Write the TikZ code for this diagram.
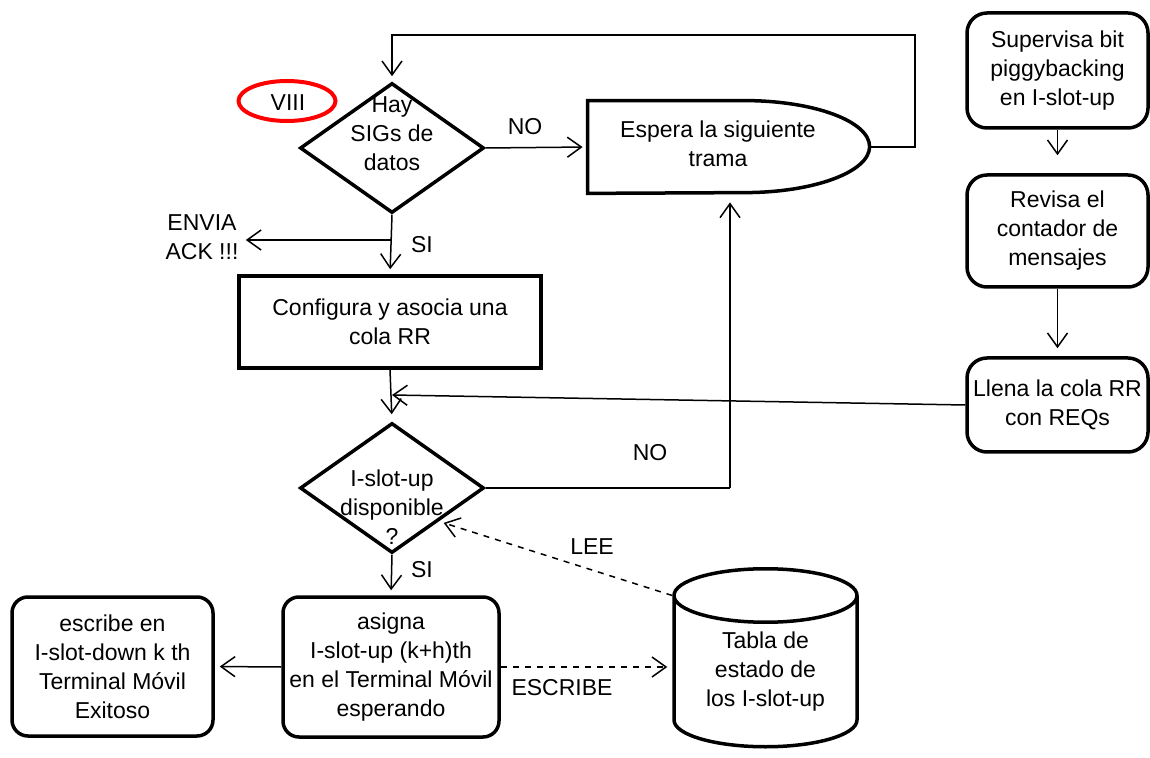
\documentclass[tikz,border=0pt]{standalone}
\usepackage{fontspec}
\setmainfont{Liberation Sans}
\usetikzlibrary{arrows.meta,shapes.geometric}

\begin{document}
\begin{tikzpicture}[x=0.5pt,y=-0.5pt,font=\fontsize{11.5}{14.5}\selectfont]

\tikzstyle{process} = [rectangle, draw, line width=1.75pt, align=center, inner sep=0pt]
\tikzstyle{roundbox} = [rectangle, rounded corners=8pt, draw, line width=1.75pt, align=center, inner sep=0pt]
\tikzstyle{decision} = [diamond, draw, line width=1.75pt, inner sep=0pt, minimum width=92pt, minimum height=65pt]
\tikzstyle{delaybox} = [rectangle, minimum width=141pt, minimum height=46pt, inner sep=0pt]
\tikzstyle{database} = [cylinder, shape border rotate=90, aspect=0.45, draw, line width=1.75pt, align=center, inner sep=0pt, minimum width=91.5pt, minimum height=89pt]
\tikzstyle{tag} = [ellipse, draw=red, line width=2pt, minimum width=48.5pt, minimum height=20pt, inner sep=0pt]
\tikzstyle{txt} = [align=center, inner sep=1pt]
\tikzstyle{link} = [line width=0.75pt, -{Straight Barb[length=7pt,width=10pt]}, shorten >=2.5pt]
\tikzstyle{plain} = [line width=0.75pt]

\useasboundingbox (0,0) rectangle (1150,758);

\node[tag] (viii) at (287,101) {};
\node[txt] (viiitxt) at (288,103) {VIII};

\node[decision] (sigs) at (392,148) {};
\node[txt] (sigstxt) at (392,134) {Hay\\SIGs de\\datos};

\node[delaybox] (espera) at (729,147) {};
\draw[line width=1.75pt] (espera.north west) -- ++(157,0)
  arc[start angle=90, end angle=-90, x radius=62.5pt, y radius=23pt]
  -- (espera.south west) -- cycle;
\node[txt] (esperatxt) at (718,144) {Espera la siguiente\\trama};

\node[txt] (ack) at (202,237) {ENVIA\\ACK !!!};

\node[process, minimum width=151pt, minimum height=46pt] (config) at (390,322) {Configura y asocia una\\cola RR};

\node[decision] (disp) at (392,488) {};
\node[txt] (disptxt) at (392,507) {I-slot-up\\disponible\\?};

\node[roundbox, minimum width=108pt, minimum height=70pt] (asigna) at (391,667) {asigna\\I-slot-up (k+h)th\\en el Terminal Móvil\\esperando};
\node[roundbox, minimum width=100.5pt, minimum height=69.5pt] (escribe) at (112.5,666.5) {escribe en\\I-slot-down k th\\Terminal Móvil\\Exitoso};
\node[database] (tabla) at (765.5,672) {Tabla de\\estado de\\los I-slot-up};

\node[roundbox, rounded corners=10pt, minimum width=90.5pt, minimum height=57.5pt] (superv) at (1057.5,70.5) {Supervisa bit\\piggybacking\\en I-slot-up};
\node[roundbox, rounded corners=10pt, minimum width=90.5pt, minimum height=56pt] (revisa) at (1057.5,231) {Revisa el\\contador de\\mensajes};
\node[roundbox, rounded corners=10pt, minimum width=90.5pt, minimum height=47pt] (llena) at (1057.5,405) {Llena la cola RR\\con REQs};

\coordinate (looptop) at (915,35);
\coordinate (ackfrom) at (391,240);
\coordinate (merge) at (392,395);
\coordinate (nocorner) at (730,488);

\draw[link] (sigs.east) -- (espera.west);
\draw[link] (espera.east) -| (looptop) -| (sigs.north);
\draw[link] (sigs.south) -- (config.north);
\draw[link] (ackfrom) -- (ackfrom -| ack.east);
\draw[link, shorten >=3.5pt] (config.south) -- (disp.north);
\draw[link, shorten >=0pt] (llena.west) -- (merge);
\draw[plain] (disp.east) -- (nocorner);
\draw[link, shorten >=4.5pt] (nocorner) -- (nocorner |- espera.south);
\draw[link] (disp.south) -- (asigna.north);
\draw[link] (asigna.west) -- (escribe.east);
\draw[link, dashed] (asigna.east) -- (asigna.east -| tabla.west);
\draw[link, dashed] (tabla.before top) -- (disp.south east);
\draw[link, shorten >=9pt] (superv.south) -- (revisa.north);
\draw[link, shorten >=4pt] (revisa.south) -- (llena.north);

\node[txt] (no1) at (525,127) {NO};
\node[txt] (si1) at (422,245) {SI};
\node[txt] (no2) at (650,453) {NO};
\node[txt] (lee) at (592,547) {LEE};
\node[txt] (si2) at (422,570) {SI};
\node[txt] (escr) at (562,688) {ESCRIBE};

\end{tikzpicture}
\end{document}
